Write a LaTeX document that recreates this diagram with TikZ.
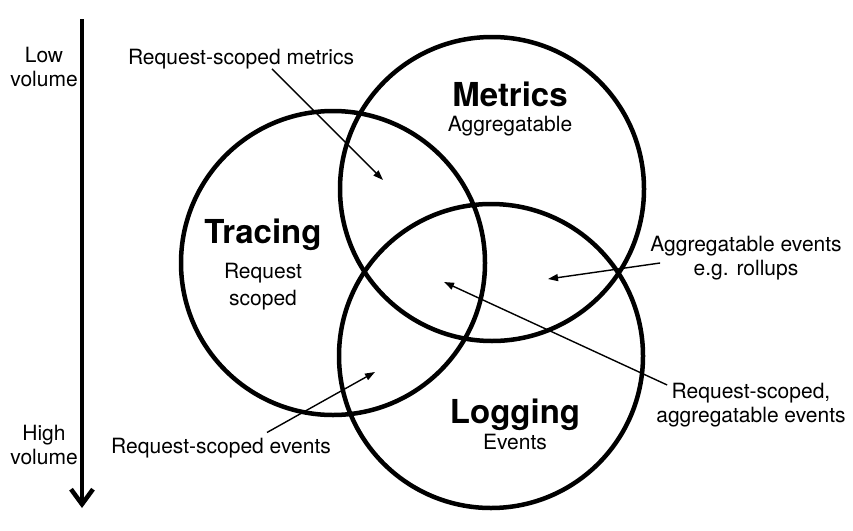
\documentclass[tikz,border=0pt]{standalone}
\usepackage{fontspec}
\setmainfont{TeX Gyre Heros}
\usetikzlibrary{arrows.meta, positioning}

\begin{document}
\begin{tikzpicture}[
    x=1pt, y=-1pt,
    set/.style={circle, draw, line width=4.5pt, minimum size=304pt, inner sep=0pt},
    title/.style={font=\fontsize{33}{36}\selectfont\bfseries, inner sep=0pt, anchor=base},
    sub/.style={font=\fontsize{21}{27}\selectfont, inner sep=0pt, align=center},
    note/.style={font=\fontsize{21}{24}\selectfont, inner sep=0pt, align=center},
    pointer/.style={-{Triangle[length=10pt, width=7pt]}, line width=1.4pt},
    axis/.style={-{Straight Barb[length=15pt, width=22pt]}, line width=4.5pt}
]
    \useasboundingbox (0,0) rectangle (853,530);

    % the three sets
    \node[set] (metricsset) at (492,189) {};
    \node[set] (tracingset) at (333,263) {};
    \node[set] (loggingset) at (491,356) {};

    \node[title] (metrics) at (510,106) {Metrics};
    \node[sub, below=9pt of metrics] (metricssub) {Aggregatable};
    \node[title] (tracing) at (263,243) {Tracing};
    \node[sub, below=13pt of tracing] (tracingsub) {Request\\scoped};
    \node[title] (logging) at (515,423) {Logging};
    \node[sub, below=4pt of logging] (loggingsub) {Events};

    % volume axis
    \coordinate (axistop) at (82,19);
    \coordinate (axisbot) at (82,508);
    \draw[axis] (axistop) -- (axisbot);
    \node[note] (low) at (44,67) {Low\\volume};
    \node[note] (high) at (44,445) {High\\volume};

    % overlap labels
    \coordinate (mt) at (383,180);
    \coordinate (ml) at (548,279);
    \coordinate (mtl) at (444,282);
    \coordinate (tl) at (375,372);

    \node[note, anchor=base] (rsm) at (241,64) {Request-scoped metrics};
    \node[note] (agg) at (746,258) {Aggregatable events\\e.g. rollups};
    \node[note] (rsa) at (751,405) {Request-scoped,\\aggregatable events};
    \node[note, anchor=base] (rse) at (221,453) {Request-scoped events};

    \draw[pointer] ([xshift=31pt]rsm.south) -- (mt);
    \draw[pointer] ([xshift=10pt, yshift=-5pt]agg.west) -- (ml);
    \draw[pointer] ([xshift=11pt, yshift=20pt]rsa.west) -- (mtl);
    \draw[pointer] ([xshift=46pt, yshift=5pt]rse.north) -- (tl);
\end{tikzpicture}
\end{document}
